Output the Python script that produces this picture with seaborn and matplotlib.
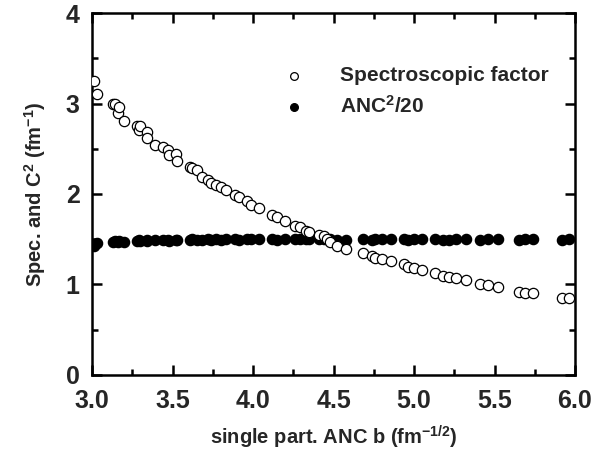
import matplotlib
matplotlib.use("Agg")
import matplotlib.pyplot as plt
import seaborn as sns
import pandas as pd
from matplotlib.ticker import MultipleLocator

b_values = [3.01, 3.03, 3.13, 3.14, 3.16, 3.17, 3.20, 3.28, 3.29, 3.30, 3.34, 3.34,
            3.39, 3.44, 3.47, 3.48, 3.52, 3.53, 3.61, 3.62, 3.65, 3.68, 3.72, 3.74,
            3.77, 3.80, 3.83, 3.89, 3.91, 3.96, 3.99, 4.04, 4.12, 4.15, 4.20, 4.26,
            4.29, 4.33, 4.35, 4.41, 4.44, 4.46, 4.48, 4.52, 4.58, 4.68, 4.74, 4.76,
            4.80, 4.86, 4.94, 4.96, 5.00, 5.05, 5.13, 5.18, 5.22, 5.26, 5.32, 5.41,
            5.46, 5.52, 5.65, 5.69, 5.74, 5.92, 5.96]
spec_factor = [3.25, 3.10, 2.99, 3.00, 2.89, 2.96, 2.81, 2.75, 2.71, 2.75, 2.69, 2.62,
               2.54, 2.52, 2.49, 2.43, 2.44, 2.36, 2.30, 2.29, 2.26, 2.19, 2.15, 2.12,
               2.10, 2.08, 2.04, 1.99, 1.97, 1.92, 1.88, 1.84, 1.77, 1.74, 1.70, 1.65,
               1.63, 1.59, 1.58, 1.55, 1.53, 1.50, 1.47, 1.43, 1.39, 1.35, 1.31, 1.29,
               1.28, 1.26, 1.23, 1.19, 1.18, 1.16, 1.13, 1.09, 1.08, 1.07, 1.05, 1.00,
               0.99, 0.97, 0.92, 0.91, 0.90, 0.85, 0.85]
anc_sq_20 = [1.43, 1.46, 1.47, 1.48, 1.47, 1.48, 1.47, 1.48, 1.49, 1.48, 1.49, 1.48,
             1.49, 1.49, 1.49, 1.48, 1.49, 1.49, 1.49, 1.50, 1.49, 1.49, 1.50, 1.49,
             1.50, 1.49, 1.50, 1.50, 1.49, 1.50, 1.50, 1.50, 1.50, 1.49, 1.50, 1.50,
             1.50, 1.50, 1.50, 1.50, 1.50, 1.50, 1.50, 1.49, 1.49, 1.50, 1.49, 1.50,
             1.50, 1.50, 1.50, 1.49, 1.50, 1.50, 1.50, 1.49, 1.49, 1.50, 1.50, 1.49,
             1.50, 1.50, 1.49, 1.50, 1.50, 1.49, 1.50]

sns.set_theme(style="ticks")
plt.rcParams['font.family'] = ['Liberation Sans', 'DejaVu Sans']
plt.rcParams['font.weight'] = 'bold'
plt.rcParams['mathtext.fontset'] = 'custom'
plt.rcParams['mathtext.rm'] = 'Liberation Sans:bold'
plt.rcParams['mathtext.it'] = 'Liberation Sans:bold'
plt.rcParams['mathtext.bf'] = 'Liberation Sans:bold'
plt.rcParams['mathtext.default'] = 'rm'

df = pd.DataFrame({"b": b_values, "spec": spec_factor, "anc": anc_sq_20})

fig = plt.figure(figsize=(5.94, 4.5), dpi=100)
ax = fig.add_axes([0.155, 0.167, 0.813, 0.804])

sns.scatterplot(data=df, x="b", y="spec", ax=ax, s=55, marker="o",
                facecolor="white", edgecolor="black", linewidth=0.9,
                label="Spectroscopic factor", zorder=3)
sns.scatterplot(data=df, x="b", y="anc", ax=ax, s=55, marker="o",
                color="black", edgecolor="black", linewidth=0.9,
                label="ANC$^2$/20", zorder=2)

ax.set_xlim(3.0, 6.0)
ax.set_ylim(0, 4)
ax.xaxis.set_major_locator(MultipleLocator(0.5))
ax.xaxis.set_minor_locator(MultipleLocator(0.25))
ax.yaxis.set_major_locator(MultipleLocator(1))
ax.yaxis.set_minor_locator(MultipleLocator(0.5))
ax.xaxis.set_major_formatter(matplotlib.ticker.FormatStrFormatter('%.1f'))

ax.tick_params(which='both', direction='in', top=True, right=True, width=1.8,
               labelsize=18, color='black')
ax.tick_params(axis='x', pad=10)
ax.tick_params(axis='y', pad=9)
ax.tick_params(which='major', length=7)
ax.tick_params(which='minor', length=4.5)
for lab in ax.get_xticklabels() + ax.get_yticklabels():
    lab.set_fontweight('bold')
for sp in ax.spines.values():
    sp.set_linewidth(1.8)
    sp.set_color('black')

ax.set_xlabel("single part. ANC b (fm$^{-1/2}$)", fontsize=14.5, fontweight='bold', labelpad=8)
ax.set_ylabel("Spec. and C$^2$ (fm$^{-1}$)", fontsize=14.5, fontweight='bold', labelpad=13)

leg = ax.legend(loc='upper right', bbox_to_anchor=(0.985, 0.905), frameon=False,
                fontsize=15, handletextpad=1.2, labelspacing=0.45, markerscale=0.75)
for t in leg.get_texts():
    t.set_fontweight('bold')

fig.savefig("out.png", dpi=100)
